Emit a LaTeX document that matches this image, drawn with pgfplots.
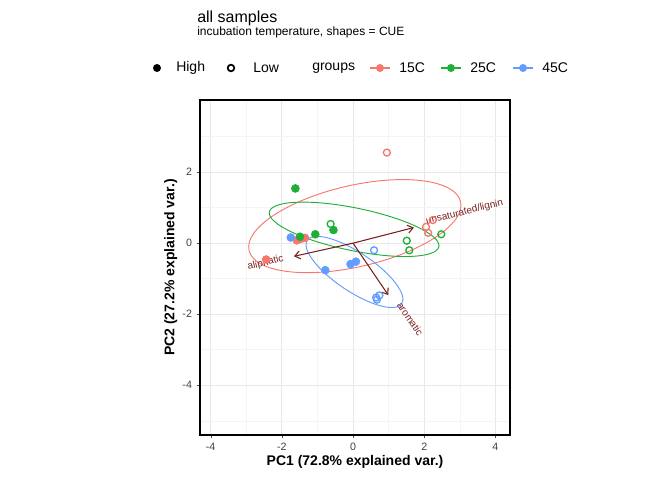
\documentclass[border=0pt]{standalone}
\usepackage{pgfplots}
\pgfplotsset{compat=1.18}
\usepackage{fontspec}
\setmainfont{Liberation Sans}
\usetikzlibrary{arrows.meta}
\definecolor{cR}{HTML}{F8766D}
\definecolor{cG}{HTML}{1FAF38}
\definecolor{cB}{HTML}{619CFF}
\definecolor{arr}{HTML}{7A1F1F}
\begin{document}
\begin{tikzpicture}[x=0.75pt,y=0.75pt]
\path (0,0) rectangle (672,480);
\begin{axis}[at={(150pt,33.75pt)},anchor=south west,scale only axis,
 width=232.5pt,height=251.25pt,
 xmin=-4.3,xmax=4.41,ymin=-5.4,ymax=4.03,
 xtick={-4,-2,0,2,4},ytick={-4,-2,0,2},
 minor xtick={-3,-1,1,3},minor ytick={-5,-3,-1,1,3},
 xtick pos=bottom,ytick pos=left,
 grid=both,major grid style={gray!18,line width=0.6pt},minor grid style={gray!9,line width=0.4pt},
 axis line style={black,line width=0.9pt},
 tick align=outside,major tick length=2.5pt,minor tick length=0pt,
 tick style={black!70},
 ticklabel style={font=\fontsize{8}{9}\selectfont,text=black!75},
 /pgf/number format/assume math mode=true,
 xlabel={\bfseries PC1 (72.8\% explained var.)},
 ylabel={\bfseries PC2 (27.2\% explained var.)},
 label style={font=\fontsize{10.5}{12}\selectfont},
 xlabel style={yshift=3pt},ylabel style={yshift=-3pt},
 clip=true]
\draw[cR,line width=0.7pt,rotate around={13:(axis cs:0.05,0.48)}] (axis cs:0.05,0.48) ellipse [x radius=81.4pt,y radius=30.5pt];
\draw[cG,line width=0.7pt,rotate around={-11.6:(axis cs:0.03,0.39)}] (axis cs:0.03,0.39) ellipse [x radius=64.9pt,y radius=16pt];
\draw[cB,line width=0.7pt,rotate around={-33.9:(axis cs:0.04,-0.81)}] (axis cs:0.04,-0.81) ellipse [x radius=42.7pt,y radius=14.5pt];
\draw[arr,line width=0.8pt,-{Straight Barb[length=4pt,width=6pt]}] (axis cs:0,0) -- (axis cs:1.71,0.44);
\draw[arr,line width=0.8pt,-{Straight Barb[length=4pt,width=6pt]}] (axis cs:0,0) -- (axis cs:-1.66,-0.37);
\draw[arr,line width=0.8pt,-{Straight Barb[length=4pt,width=6pt]}] (axis cs:0,0) -- (axis cs:0.99,-1.46);
\node[arr,font=\fontsize{7.5}{8}\selectfont,rotate=14,anchor=west,inner sep=0pt] at (axis cs:2.05,0.6) {unsaturated/lignin};
\node[arr,font=\fontsize{7.5}{8}\selectfont,rotate=14,anchor=east,inner sep=0pt] at (axis cs:-1.95,-0.43) {aliphatic};
\node[arr,font=\fontsize{7.5}{8}\selectfont,rotate=-56,anchor=west,inner sep=0pt] at (axis cs:1.3,-1.68) {aromatic};
\addplot[only marks,mark=*,mark size=3pt,cR] coordinates {(-2.44,-0.46)(-1.58,0.08)(-1.35,0.15)(-1.47,0.12)};
\addplot[only marks,mark=o,mark size=2.6pt,cR,line width=1pt] coordinates {(0.95,2.55)(2.24,0.65)(2.05,0.46)(2.11,0.29)};
\addplot[only marks,mark=*,mark size=3pt,cG] coordinates {(-1.62,1.54)(-1.49,0.18)(-1.06,0.25)(-0.55,0.37)};
\addplot[only marks,mark=o,mark size=2.6pt,cG,line width=1pt] coordinates {(-0.63,0.54)(1.51,0.07)(1.58,-0.2)(2.48,0.25)};
\addplot[only marks,mark=*,mark size=3pt,cB] coordinates {(-1.75,0.16)(-0.78,-0.76)(-0.07,-0.59)(0.08,-0.52)};
\addplot[only marks,mark=o,mark size=2.6pt,cB,line width=1pt] coordinates {(0.59,-0.2)(0.67,-1.59)(0.74,-1.47)(0.65,-1.53)};
\end{axis}
\node[anchor=west,inner sep=0pt,font=\fontsize{12}{13}\selectfont] at (197,462) {all samples};
\node[anchor=west,inner sep=0pt,font=\fontsize{9}{10}\selectfont] at (197,448) {incubation temperature, shapes = CUE};
\begin{scope}[font=\fontsize{10.5}{12}\selectfont]
\fill (157,412) circle (4);
\node[anchor=west,inner sep=0pt] at (176,412) {High};
\draw[line width=1.3pt] (231,412) circle (3.3);
\node[anchor=west,inner sep=0pt] at (253,412) {Low};
\node[anchor=west,inner sep=0pt] at (312,412) {groups};
\draw[cR,line width=0.9pt] (370,412)--(390,412); \fill[cR] (380,412) circle (4);
\node[anchor=west,inner sep=0pt] at (399,412) {15C};
\draw[cG,line width=0.9pt] (441,412)--(461,412); \fill[cG] (451,412) circle (4);
\node[anchor=west,inner sep=0pt] at (470,412) {25C};
\draw[cB,line width=0.9pt] (513,412)--(533,412); \fill[cB] (523,412) circle (4);
\node[anchor=west,inner sep=0pt] at (542,412) {45C};
\end{scope}
\end{tikzpicture}
\end{document}
